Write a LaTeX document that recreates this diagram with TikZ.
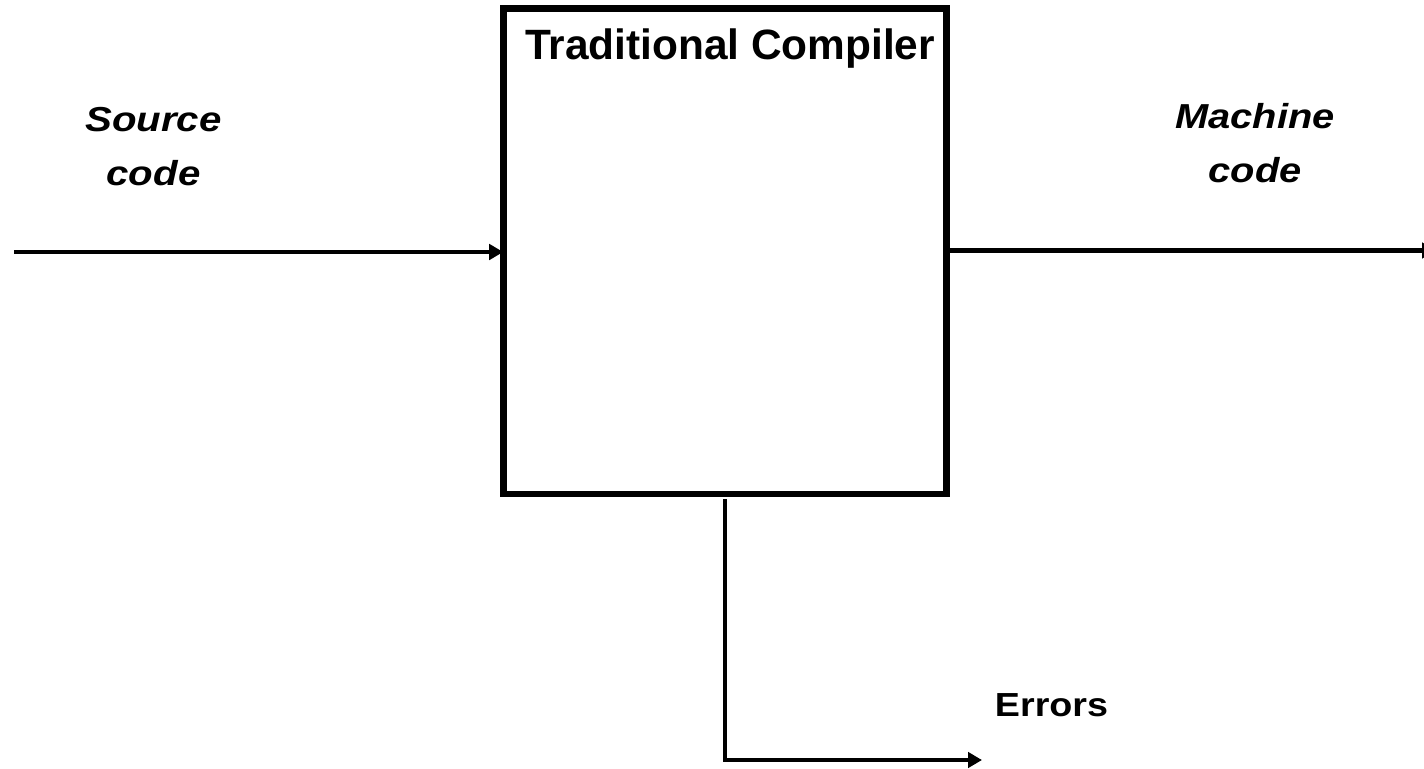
\documentclass[tikz,border=0pt]{standalone}
\usepackage{fontspec}
\setmainfont{Liberation Sans}
\usetikzlibrary{arrows.meta}
\begin{document}
\begin{tikzpicture}[x=0.75pt,y=-0.75pt,
  conn/.style={line width=3.3pt,-{Triangle[length=10.5pt,width=11.5pt]}},
  lbl/.style={font=\fontsize{26}{38}\selectfont\bfseries\itshape,align=center,inner sep=0pt,anchor=base},
]
\useasboundingbox (0,0) rectangle (1424,768);
\clip (0,0) rectangle (1424,768);
\draw[line width=5pt] (503.5,8.5) rectangle (946.5,494);
\node[draw=none,minimum width=443*0.75pt,minimum height=485.5*0.75pt,inner sep=0pt] (comp) at (725,251.25) {};
\node[font=\fontsize{31.8}{36}\selectfont\bfseries,anchor=base,inner sep=0pt] (title) at (730,59.5) {Traditional Compiler};
\node[lbl] (src1) at (153.5,131) {\scalebox{1.16}[1]{Source}};
\node[lbl] (src2) at (153.5,185) {\scalebox{1.16}[1]{code}};
\node[lbl] (mc1) at (1255,128) {\scalebox{1.15}[1]{Machine}};
\node[lbl] (mc2) at (1255,182) {\scalebox{1.15}[1]{code}};
\node[font=\fontsize{25}{30}\selectfont\bfseries,anchor=base,inner sep=0pt] (err) at (1051.5,716) {\scalebox{1.13}[1]{Errors}};
\coordinate (in) at (14,252);
\coordinate (out) at (1436,250.5);
\coordinate (bstart) at (725,499);
\coordinate (corner) at (725,760);
\coordinate (eend) at (982,760);
\draw[conn] (in) -- (comp.west |- in);
\draw[conn] (comp.east |- out) -- (out);
\draw[conn] (bstart) -- (corner) -- (eend);
\end{tikzpicture}
\end{document}
